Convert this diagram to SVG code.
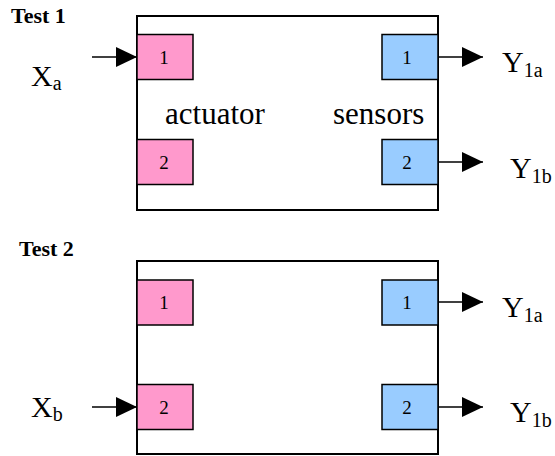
<svg xmlns="http://www.w3.org/2000/svg" width="555" height="456" viewBox="0 0 555 456" font-family="'Liberation Serif', 'Times New Roman', serif">
<defs>
<marker id="ah" markerWidth="21" markerHeight="20" refX="21" refY="10" orient="auto" markerUnits="userSpaceOnUse">
<path d="M0,0 L21,10 L0,20 Z" fill="#000"/>
</marker>
<style>
text{font-family:'Liberation Serif','Times New Roman',serif;fill:#000}
.frame{fill:#fff;stroke:#000;stroke-width:2}
.act{fill:#FF99CC;stroke:#000;stroke-width:1.5}
.sen{fill:#99CCFF;stroke:#000;stroke-width:1.5}
.num{font-size:19px;text-anchor:middle}
.title{font-size:22px;font-weight:bold}
.lbl{font-size:31px}
.var{font-size:30px}
.sub{font-size:20px}
.conn{stroke:#000;stroke-width:1.5;fill:none;marker-end:url(#ah)}
</style>
</defs>
<rect width="555" height="456" fill="#fff"/>
<g id="test1">
<text class="title" x="11" y="23">Test 1</text>
<rect class="frame" x="137" y="16" width="301" height="194"/>
<text class="lbl" x="165" y="124">actuator</text>
<text class="lbl" x="333" y="124">sensors</text>
<g id="t1-act1"><rect class="act" x="137" y="34.5" width="56" height="45"/><text class="num" x="164" y="64">1</text></g>
<g id="t1-act2"><rect class="act" x="137" y="139.5" width="56" height="45"/><text class="num" x="164" y="169">2</text></g>
<g id="t1-sen1"><rect class="sen" x="382" y="34.5" width="56" height="45"/><text class="num" x="407" y="64">1</text></g>
<g id="t1-sen2"><rect class="sen" x="382" y="139.5" width="56" height="45"/><text class="num" x="407" y="169">2</text></g>
<text class="var" x="31" y="86">X<tspan class="sub" dy="4">a</tspan></text>
<text class="var" x="502" y="72">Y<tspan class="sub" dy="5">1a</tspan></text>
<text class="var" x="510" y="178">Y<tspan class="sub" dy="5">1b</tspan></text>
</g>
<g id="test2">
<text class="title" x="19" y="256">Test 2</text>
<rect class="frame" x="137" y="261" width="301" height="193"/>
<g id="t2-act1"><rect class="act" x="137" y="280" width="56" height="45"/><text class="num" x="164" y="309">1</text></g>
<g id="t2-act2"><rect class="act" x="137" y="384.5" width="56" height="45"/><text class="num" x="164" y="414">2</text></g>
<g id="t2-sen1"><rect class="sen" x="382" y="280" width="56" height="45"/><text class="num" x="407" y="309">1</text></g>
<g id="t2-sen2"><rect class="sen" x="382" y="384.5" width="56" height="45"/><text class="num" x="407" y="414">2</text></g>
<text class="var" x="31" y="417">X<tspan class="sub" dy="4">b</tspan></text>
<text class="var" x="502" y="317">Y<tspan class="sub" dy="5">1a</tspan></text>
<text class="var" x="510" y="422">Y<tspan class="sub" dy="5">1b</tspan></text>
</g>
<g id="connectors">
<line class="conn" x1="92" y1="57" x2="137" y2="57"/>
<line class="conn" x1="438" y1="57" x2="483" y2="57"/>
<line class="conn" x1="438" y1="162" x2="483" y2="162"/>
<line class="conn" x1="92" y1="407" x2="137" y2="407"/>
<line class="conn" x1="438" y1="302" x2="483" y2="302"/>
<line class="conn" x1="438" y1="407" x2="483" y2="407"/>
</g>
</svg>
